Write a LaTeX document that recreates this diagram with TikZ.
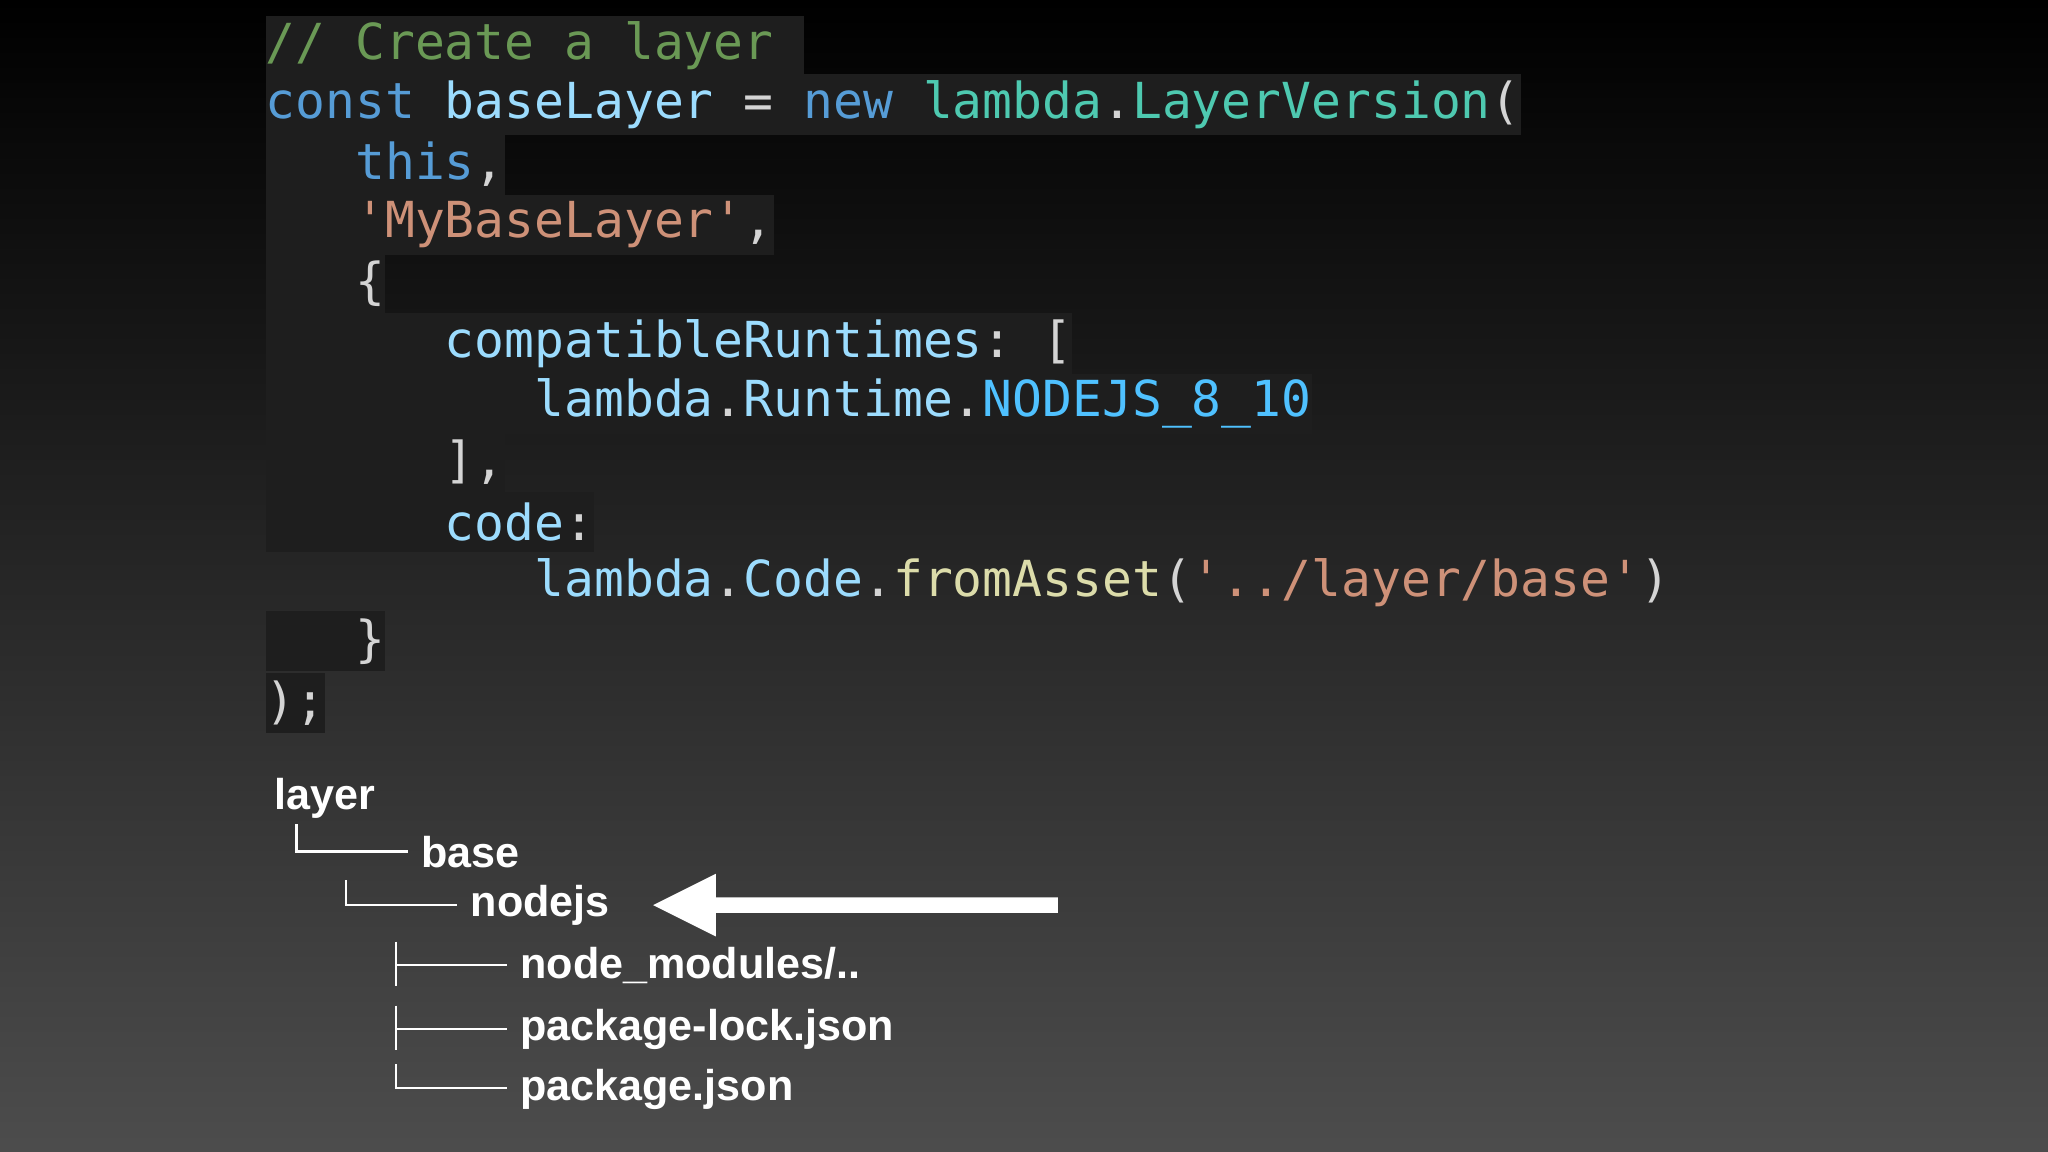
\documentclass[tikz,border=0pt]{standalone}
\usepackage{fontspec}
\setmainfont{Liberation Sans}
\newfontfamily\mono{DejaVu Sans Mono}
\definecolor{cbg}{HTML}{1E1E1E}
\definecolor{ccom}{HTML}{6A9955}
\definecolor{ckw}{HTML}{569CD6}
\definecolor{cvar}{HTML}{9CDCFE}
\definecolor{cop}{HTML}{D4D4D4}
\definecolor{cty}{HTML}{4EC9B0}
\definecolor{cstr}{HTML}{CE9178}
\definecolor{cfn}{HTML}{DCDCAA}
\definecolor{ccon}{HTML}{4FC1FF}
\begin{document}
\begin{tikzpicture}[x=0.5pt,y=-0.5pt,
  code/.style={anchor=west,fill=cbg,inner xsep=0pt,inner ysep=0pt,minimum height=23pt,text=cop,font=\mono\fontsize{19}{23}\selectfont},
  tree/.style={anchor=west,inner sep=0pt,text=white,font=\bfseries\fontsize{16.5}{20}\selectfont},
  tl/.style={white,line width=0.9pt}]
\shade[top color=black,bottom color=black!70!white] (0,0) rectangle (1568,882);
\useasboundingbox (0,0) rectangle (1568,882);
\node[code] (l1) at (203,35) {\color{ccom}//\ Create\ a\ layer\ \ };
\node[code] (l2) at (203,80) {\color{ckw}const\ \color{cvar}baseLayer\ \color{cop}=\ \color{ckw}new\ \color{cty}lambda\color{cop}.\color{cty}LayerVersion\color{cop}(};
\node[code] (l3) at (203,126) {\ \ \ \color{ckw}this\color{cop},};
\node[code] (l4) at (203,172) {\ \ \ \color{cstr}'MyBaseLayer'\color{cop},};
\node[code] (l5) at (203,217) {\ \ \ \{};
\node[code] (l6) at (203,263) {\ \ \ \ \ \ \color{cvar}compatibleRuntimes\color{cop}:\ [};
\node[code] (l7) at (203,309) {\ \ \ \ \ \ \ \ \ \color{cvar}lambda\color{cop}.\color{cvar}Runtime\color{cop}.\color{ccon}NODEJS\_8\_10};
\node[code] (l8) at (203,354) {\ \ \ \ \ \ ],};
\node[code] (l9) at (203,400) {\ \ \ \ \ \ \color{cvar}code\color{cop}:};
\node[code,fill=none] (l10) at (203,446) {\ \ \ \ \ \ \ \ \ \color{cvar}lambda\color{cop}.\color{cvar}Code\color{cop}.\color{cfn}fromAsset\color{cop}(\color{cstr}'../layer/base'\color{cop})};
\node[code] (l11) at (203,491) {\ \ \ \}};
\node[code] (l12) at (203,538) {);};
% tree
\node[tree] (t1) at (210,611) {layer};
\node[tree] (t2) at (322,652) {base};
\node[tree] (t3) at (360,693) {nodejs};
\node[tree] (t4) at (398,739) {node\_modules/..};
\node[tree] (t5) at (398,788) {package-lock.json};
\node[tree] (t6) at (398,834) {package.json};
\draw[tl] (227,631) |- (312,652);
\draw[tl] (265,674) |- (350,693);
\draw[tl] (303,721) -- (303,755) (303,739) -- (388,739);
\draw[tl] (303,770) -- (303,804) (303,788) -- (388,788);
\draw[tl] (303,815) |- (388,833);
\coordinate (a0) at (810,693);
\fill[white] (810,687) -- (548,687) -- (548,669) -- (500,693) -- (548,717) -- (548,699) -- (810,699) -- cycle;
\end{tikzpicture}
\end{document}
